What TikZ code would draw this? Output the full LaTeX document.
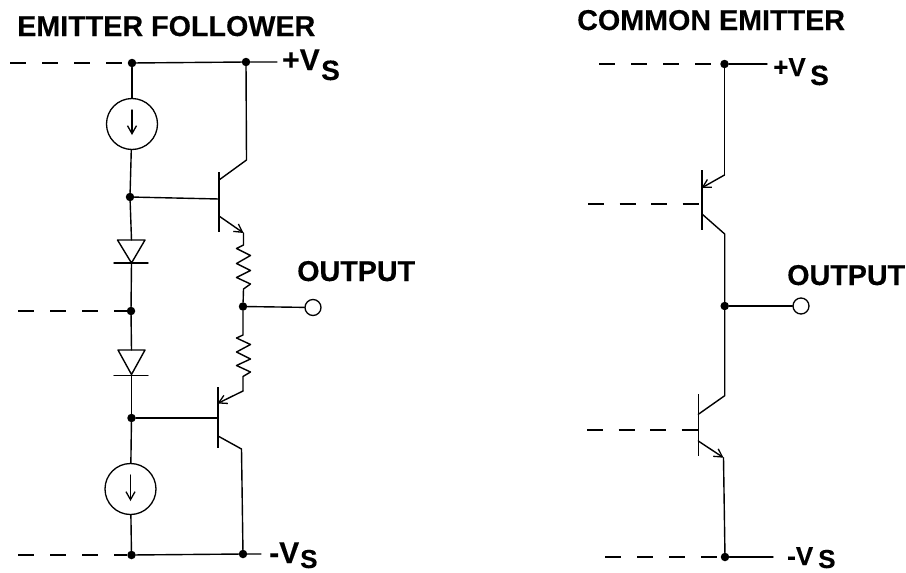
\documentclass[tikz,border=0pt]{standalone}
\usepackage{fontspec}
\setmainfont[BoldFeatures={FakeBold=0.25}]{Liberation Sans}
\usetikzlibrary{arrows.meta}
\tikzset{
  wire/.style={line width=1.4pt,line cap=round,line join=round},
  bar/.style={line width=1.5pt},
  dashw/.style={line width=2pt,dash pattern=on 16pt off 16pt},
  arr/.style={wire,-{Straight Barb[length=8pt,width=9pt,line width=1.3pt]}},
  jn/.style={circle,fill=black,inner sep=0pt,minimum size=8.5pt},
  src/.style={circle,draw,line width=1.3pt,inner sep=0pt,minimum size=51pt},
  term/.style={circle,draw,line width=1.3pt,inner sep=0pt,minimum size=16pt},
  lab/.style={anchor=base west,inner sep=0pt,font=\bfseries\fontsize{28.7}{30}\selectfont},
  labv/.style={anchor=base west,inner sep=0pt,font=\bfseries\fontsize{30}{30}\selectfont},
  labs/.style={anchor=base west,inner sep=0pt,font=\bfseries\fontsize{26}{30}\selectfont},
  subs/.style={anchor=base west,inner sep=0pt,font=\bfseries\fontsize{28}{30}\selectfont},
  subb/.style={anchor=base west,inner sep=0pt,font=\bfseries\fontsize{26}{30}\selectfont},
}
\begin{document}
\begin{tikzpicture}[x=1pt,y=-1pt]
\useasboundingbox (0,0) rectangle (906,573);
% ---- labels
\node[lab] (t1) at (17,36) {EMITTER FOLLOWER};
\node[lab] (t2) at (577,30) {COMMON EMITTER};
\node[lab] (o1) at (297,281) {OUTPUT};
\node[lab] (o2) at (787,285) {OUTPUT};
\node[labv] (vp1) at (282,70) {+V};
\node[subs] (sp1) at (321,80) {S};
\node[labv] (vm1) at (269,563) {-V};
\node[subb] (sm1) at (300,568) {S};
\node[labs] (vp2) at (773,76) {+V};
\node[subs] (sp2) at (810,85) {S};
\node[labs] (vm2) at (787,565) {-V};
\node[subb] (sm2) at (818,568) {S};
% ---- left circuit: junctions
\node[jn] (a1) at (132,63) {};
\node[jn] (a2) at (246,62) {};
\node[jn] (b1) at (130,197) {};
\node[jn] (c1) at (131,311) {};
\node[jn] (d1) at (131.5,418) {};
\node[jn] (e1) at (131.5,555) {};
\node[jn] (e2) at (243,554) {};
\node[jn] (m1) at (243,306.5) {};
\node[term] (out1) at (313,307.5) {};
\node[src] (s1) at (132,124) {};
\node[src] (s2) at (130.5,489) {};
% dashed feeds
\coordinate (da) at (10,63); \coordinate (dc) at (18,311); \coordinate (de) at (18,555);
\draw[dashw] (da) -- (a1);
\draw[dashw] (dc) -- (c1);
\draw[dashw] (de) -- (e1);
% rails
\coordinate (ra) at (277,62); \coordinate (re) at (261,554);
\draw[wire] (a1) -- (a2) -- (ra);
\draw[wire] (e1) -- (e2) -- (re);
% source column
\draw[wire] (a1) -- (s1);
\draw[wire] (s1) -- (b1);
\coordinate (s1t) at (132,110); \coordinate (s1b) at (132,135);
\draw[arr] (s1t) -- (s1b);
\coordinate (s2t) at (130.5,475); \coordinate (s2b) at (130.5,501);
\draw[arr] (s2t) -- (s2b);
\draw[wire] (d1) -- (s2);
\draw[wire] (s2) -- (e1);
% diodes
\coordinate (d1a) at (131.5,263); \coordinate (d1l) at (117.5,240); \coordinate (d1r) at (145,240); \coordinate (d1t) at (131.5,240);
\coordinate (d1bl) at (114,263); \coordinate (d1br) at (148,263);
\draw[wire] (d1l) -- (d1r) -- (d1a) -- cycle;
\draw[wire] (d1bl) -- (d1br);
\draw[wire] (b1) -- (d1t);
\draw[wire] (d1a) -- (c1);
\coordinate (d2a) at (131.5,374.5); \coordinate (d2l) at (118,350); \coordinate (d2r) at (145,350); \coordinate (d2t) at (131.5,350);
\coordinate (d2bl) at (114,375.5); \coordinate (d2br) at (148,375.5);
\draw[wire] (d2l) -- (d2r) -- (d2a) -- cycle;
\draw[wire] (d2bl) -- (d2br);
\draw[wire] (c1) -- (d2t);
\draw[wire] (d2a) -- (d1);
% upper transistor
\coordinate (q1b) at (219,199); \coordinate (q1t) at (219,172); \coordinate (q1u) at (219,232);
\coordinate (q1c) at (219,180); \coordinate (q1k) at (246.5,160);
\coordinate (q1e) at (219,216); \coordinate (q1x) at (243.5,233);
\draw[bar] (q1t) -- (q1u);
\draw[wire] (b1) -- (q1b);
\draw[wire] (a2) -- (q1k) -- (q1c);
\draw[arr] (q1e) -- (q1x);
% upper resistor
\draw[wire] (q1x) -- ++(0,12) -- ++(-7,3.5) -- ++(14,7) -- ++(-14,8) -- ++(14,7) -- ++(-14,7) -- ++(14,6.5) -- ++(-7,5) -- (m1);
% lower resistor
\coordinate (q2x) at (243,391);
\draw[wire] (m1) -- (243,335) -- ++(-6.5,3) -- ++(14,6.5) -- ++(-14,7.5) -- ++(14,7) -- ++(-14,6.5) -- ++(14,6.5) -- ++(-7.5,4.5) -- (q2x);
% lower transistor
\coordinate (q2b) at (218,418); \coordinate (q2t) at (218,387); \coordinate (q2u) at (218,448);
\coordinate (q2e) at (217.5,403.5);
\coordinate (q2c) at (218,436); \coordinate (q2k) at (241.5,449);
\draw[bar] (q2t) -- (q2u);
\draw[wire] (d1) -- (q2b);
\draw[arr] (q2x) -- (q2e);
\draw[wire] (q2c) -- (q2k) -- (e2);
% output
\draw[wire] (m1) -- (out1);
% ---- right circuit
\node[jn] (f1) at (724.5,64) {};
\node[jn] (g1) at (724.7,306) {};
\node[jn] (h1) at (725,557) {};
\node[term] (out2) at (801,306) {};
\coordinate (df) at (599,64); \coordinate (rf) at (767,64);
\coordinate (dh) at (605,557); \coordinate (rh) at (773,557);
\draw[dashw] (df) -- (f1);
\draw[dashw] (dh) -- (h1);
\draw[wire] (f1) -- (rf);
\draw[wire] (h1) -- (rh);
% upper
\coordinate (p1b) at (701,204); \coordinate (p1t) at (702,170); \coordinate (p1u) at (702,230);
\coordinate (p1k) at (724.5,175); \coordinate (p1e) at (701.5,188);
\coordinate (p1c) at (702,214); \coordinate (p1m) at (724.7,234);
\coordinate (dp1) at (588,204);
\draw[bar] (p1t) -- (p1u);
\draw[wire] (f1) -- (p1k);
\draw[arr] (p1k) -- (p1e);
\draw[wire] (p1c) -- (p1m) -- (g1);
\draw[dashw,dash pattern=on 16pt off 15.5pt] (dp1) -- (p1b);
% lower
\coordinate (p2b) at (698.3,430); \coordinate (p2t) at (698.3,394); \coordinate (p2u) at (698.3,455.7);
\coordinate (p2k) at (724.7,395.7); \coordinate (p2c) at (698.3,414.3);
\coordinate (p2e) at (698.3,441); \coordinate (p2x) at (723.5,457.7);
\coordinate (dp2) at (587,430);
\draw[bar] (p2t) -- (p2u);
\draw[wire] (g1) -- (p2k) -- (p2c);
\draw[arr] (p2e) -- (p2x);
\draw[wire] (p2x) -- (h1);
\draw[dashw,dash pattern=on 16pt off 15.5pt] (dp2) -- (p2b);
\draw[wire] (g1) -- (out2);
\end{tikzpicture}
\end{document}
